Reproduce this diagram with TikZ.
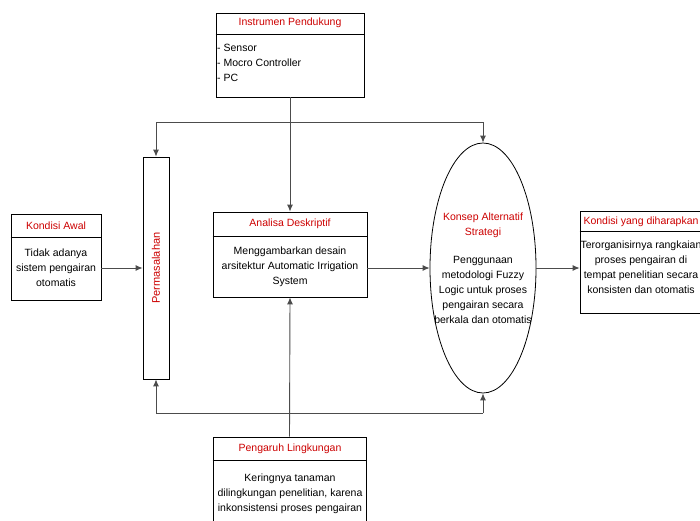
\documentclass[tikz,border=0pt]{standalone}
\usepackage{fontspec}
\setmainfont{Liberation Sans}
\usetikzlibrary{arrows.meta,shapes.geometric}
\definecolor{titlered}{RGB}{204,0,0}
\begin{document}
\begin{tikzpicture}[x=1pt,y=-1pt,
  box/.style={draw=black, line width=0.8pt, rectangle, inner sep=0pt},
  ttl/.style={text=titlered, font=\fontsize{10.5}{12}\selectfont, inner sep=0pt, align=center},
  body/.style={align=center, font=\fontsize{10.5}{15}\selectfont, inner sep=0pt},
  conn/.style={draw=black!70, line width=0.9pt},
  arr/.style={conn, -{Latex[length=7pt,width=6pt]}}]
\useasboundingbox (0,0) rectangle (700,520);

% Instrumen Pendukung
\node[box, minimum width=148pt, minimum height=84pt] (ins) at (290,55) {};
\draw ([yshift=-22pt]ins.north west) -- ([yshift=-22pt]ins.north east);
\node[ttl] (insT) at (290,23) {Instrumen Pendukung};
\node[body, align=left, anchor=north west] (insB) at (217,44) {- Sensor\\- Mocro Controller\\- PC};

% Kondisi Awal
\node[box, minimum width=90pt, minimum height=86pt] (awal) at (56,257) {};
\draw ([yshift=-24pt]awal.north west) -- ([yshift=-24pt]awal.north east);
\node[ttl] (awalT) at (56,226) {Kondisi Awal};
\node[body] (awalB) at (56,268) {Tidak adanya\\sistem pengairan\\otomatis};

% Permasalahan
\node[box, minimum width=26pt, minimum height=222pt] (perm) at (156,268) {};
\node[ttl, rotate=90, font=\fontsize{11}{12}\selectfont] (permT) at (156,268) {Permasalahan};

% Analisa Deskriptif
\node[box, minimum width=154pt, minimum height=85pt] (ana) at (290,254.5) {};
\draw ([yshift=-25pt]ana.north west) -- ([yshift=-25pt]ana.north east);
\node[ttl] (anaT) at (290,224) {Analisa Deskriptif};
\node[body] (anaB) at (290,267) {Menggambarkan desain\\arsitektur Automatic Irrigation\\System};

% Konsep Alternatif Strategi
\node[draw=black, line width=0.8pt, ellipse, minimum width=106pt, minimum height=250pt, inner sep=0pt] (ell) at (483,268) {};
\node[ttl, font=\fontsize{10.5}{15}\selectfont] (ellT) at (483,225) {Konsep Alternatif\\Strategi};
\node[body] (ellB) at (483,290) {Penggunaan\\metodologi Fuzzy\\Logic untuk proses\\pengairan secara\\berkala dan otomatis};

% Kondisi yang diharapkan
\node[box, minimum width=123pt, minimum height=102pt] (harap) at (641.5,262) {};
\draw ([yshift=-21pt]harap.north west) -- ([yshift=-21pt]harap.north east);
\node[ttl] (harapT) at (641,222) {Kondisi yang diharapkan};
\node[body] (harapB) at (641,267) {Terorganisirnya rangkaian\\proses pengairan di\\tempat penelitian secara\\konsisten dan otomatis};

% Pengaruh Lingkungan
\node[box, minimum width=153pt, minimum height=93pt] (peng) at (289.5,483.5) {};
\draw ([yshift=-24pt]peng.north west) -- ([yshift=-24pt]peng.north east);
\node[ttl] (pengT) at (290,449) {Pengaruh Lingkungan};
\node[body] (pengB) at (290,494) {Keringnya tanaman\\dilingkungan penelitian, karena\\inkonsistensi proses pengairan};

% Connectors
\coordinate (topL) at (156,122);
\coordinate (topR) at (483,122);
\coordinate (botL) at (156,413);
\coordinate (botR) at (483,413);
\draw[arr] (ins.south) -- (ana.north);
\draw[conn] (topL) -- (topR);
\draw[arr] (topL) -- (perm.north);
\draw[arr] (topR) -- (ell.north);
\draw[conn] (botL) -- (botR);
\draw[arr] (botL) -- (perm.south);
\draw[arr] (botR) -- (ell.south);
\draw[arr] (awal.east |- perm.west) -- (perm.west);
\draw[arr] (ana.east |- ell.west) -- (ell.west);
\draw[arr] (ell.east) -- (harap.west |- ell.east);
\draw[arr] (peng.north) -- (ana.south);
\end{tikzpicture}
\end{document}
